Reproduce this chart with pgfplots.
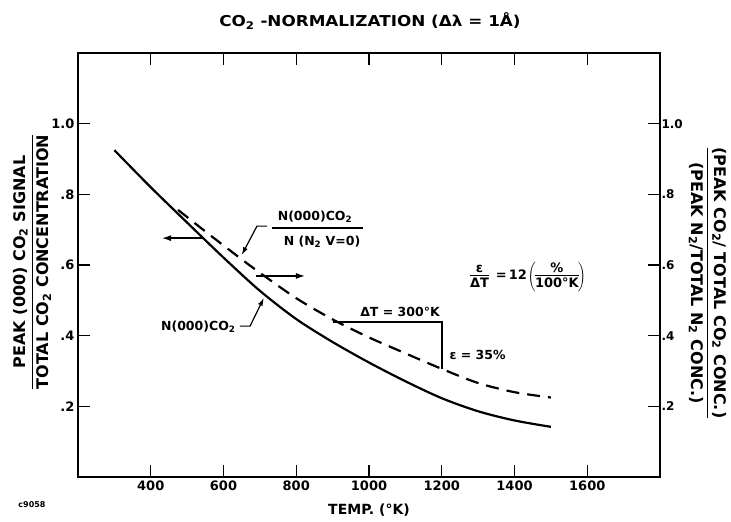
\documentclass[border=0pt]{standalone}
\usepackage{fontspec}
\setmainfont{DejaVu Sans}
\usepackage{graphicx}
\usepackage{pgfplots}
\pgfplotsset{compat=1.18}
\usetikzlibrary{arrows.meta}
\newcommand{\sub}[1]{\textsubscript{#1}}
\begin{document}
\begin{tikzpicture}[font=\bfseries]
\path[use as bounding box] (-78pt,-45pt) rectangle (653pt,477pt);
\begin{axis}[
  scale only axis, width=582pt, height=424pt,
  xmin=200, xmax=1800, ymin=0, ymax=1.2,
  xtick={400,600,...,1600},
  ytick={0.2,0.4,0.6,0.8,1.0},
  yticklabels={.2,.4,.6,.8,1.0},
  /pgf/number format/assume math mode=true,
  /pgf/number format/1000 sep={},
  tick style={line width=1.3pt,black},
  major tick length=12pt,
  axis line style={line width=1.5pt},
  ticklabel style={font=\fontsize{13}{15}\selectfont\bfseries},
  clip=false,
]
\addplot[smooth, line width=2.2pt] coordinates {
 (300,0.925) (400,0.82) (500,0.72) (600,0.621) (700,0.527) (800,0.447)
 (900,0.382) (1000,0.324) (1100,0.271) (1200,0.223) (1300,0.186) (1400,0.16) (1500,0.142)};
\addplot[smooth, line width=2.2pt, dash pattern=on 13pt off 8pt] coordinates {
 (475,0.756) (550,0.695) (645,0.62) (700,0.578) (800,0.506) (900,0.446)
 (1000,0.395) (1100,0.35) (1200,0.306) (1300,0.266) (1400,0.24) (1500,0.225)};
% slope triangle
\draw[line width=1.5pt] (axis cs:900,0.439) -- (axis cs:1200,0.439) -- (axis cs:1200,0.305);
% direction arrows
\draw[line width=1.3pt,-{Latex[length=9pt,width=6pt]}] (axis cs:544,0.676) -- (axis cs:431,0.676);
\draw[line width=1.3pt,-{Latex[length=9pt,width=6pt]}] (axis cs:689,0.569) -- (axis cs:824,0.569);
% pointers
\draw[line width=1.2pt,-{Latex[length=8pt,width=5pt]}] (axis cs:720,0.71) -- (axis cs:692,0.71) -- (axis cs:650,0.628);
\draw[line width=1.2pt,-{Latex[length=8pt,width=5pt]}] (axis cs:645,0.427) -- (axis cs:673,0.427) -- (axis cs:711,0.507);
\end{axis}
\begin{axis}[
  scale only axis, width=582pt, height=424pt,
  xmin=200, xmax=1800, ymin=0, ymax=1.2,
  hide x axis, axis y line*=right,
  y axis line style={draw=none},
  ytick style={draw=none},
  ytick={0.2,0.4,0.6,0.8,1.0},
  yticklabels={.2,.4,.6,.8,1.0},
  ticklabel style={font=\fontsize{12}{14}\selectfont\bfseries},
  yticklabel style={xshift=-2pt},
]
\end{axis}
\begin{scope}[shift={(-78pt,477pt)},x=1pt,y=-1pt]
\node at (370,21) {\fontsize{15}{17}\selectfont\bfseries\scalebox{1.12}[1]{CO\sub{2} -NORMALIZATION (Δλ = 1Å)}};
\node at (369,510) {\fontsize{14}{16}\selectfont\bfseries TEMP. (°K)};
\node at (32,505) {\fontsize{8}{9}\selectfont\bfseries c9058};
\node[rotate=90,inner sep=0pt] at (33,262) {\fontsize{16}{19}\selectfont\bfseries\setlength{\arrayrulewidth}{1.6pt}\begin{tabular}{@{}c@{}}PEAK (000) CO\sub{2} SIGNAL\\[1pt]\hline\rule{0pt}{15pt}TOTAL CO\sub{2} CONCENTRATION\end{tabular}};
\node[rotate=-90,inner sep=0pt] at (707,283) {\fontsize{16}{19}\selectfont\bfseries\setlength{\arrayrulewidth}{1.6pt}\begin{tabular}{@{}c@{}}(PEAK CO\sub{2}/ TOTAL CO\sub{2} CONC.)\\[1pt]\hline\rule{0pt}{15pt}(PEAK N\sub{2}/TOTAL N\sub{2} CONC.)\end{tabular}};
% annotation labels
\node at (315,217) {\fontsize{12.5}{15}\selectfont\bfseries N(000)CO\sub{2}};
\draw[line width=1.4pt] (272,228) -- (363,228);
\node at (322,242) {\fontsize{12.5}{15}\selectfont\bfseries N (N\sub{2} V=0)};
\node[anchor=east] at (239,327) {\fontsize{12.5}{15}\selectfont\bfseries N(000)CO\sub{2}};
\node at (400,312) {\fontsize{12.5}{15}\selectfont\bfseries ΔT = 300°K};
\node[anchor=west] at (446,355) {\fontsize{12.5}{15}\selectfont\bfseries ε = 35\%};
\node at (528,277) {\fontsize{13}{15}\selectfont\bfseries\setlength{\arrayrulewidth}{1.2pt}%
  \begin{tabular}{@{}c@{}}ε\\[-2pt]\hline\rule{0pt}{12pt}ΔT\end{tabular}
  \,=\,12\hspace{1pt}$\left(\vphantom{\begin{tabular}{c}x\\x\end{tabular}}\right.$\hspace{-2pt}%
  \begin{tabular}{@{}c@{}}\%\\[-2pt]\hline\rule{0pt}{12pt}100°K\end{tabular}\hspace{-2pt}$\left.\vphantom{\begin{tabular}{c}x\\x\end{tabular}}\right)$};
\end{scope}
\end{tikzpicture}
\end{document}
